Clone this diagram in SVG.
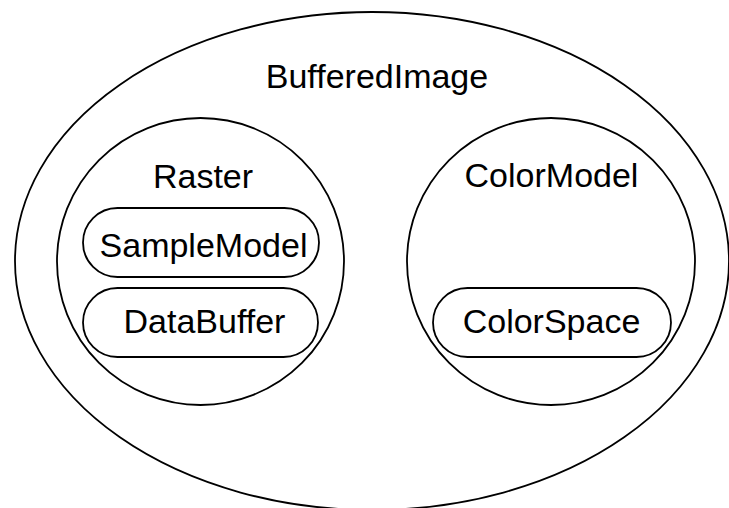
<svg xmlns="http://www.w3.org/2000/svg" width="729" height="508" viewBox="0 0 729 508">
<style>
.s{fill:none;stroke:#000;stroke-width:1.8}
.t{font-family:"Liberation Sans",Arial,sans-serif;font-size:34px;fill:#000;text-anchor:middle}
</style>
<rect width="729" height="508" fill="#fff"/>
<g id="BufferedImage">
<ellipse class="s" cx="372" cy="261" rx="357" ry="249"/>
<text class="t" x="377" y="88">BufferedImage</text>
</g>
<g id="Raster">
<ellipse class="s" cx="200.5" cy="261.5" rx="143.5" ry="143.5"/>
<text class="t" x="203" y="188">Raster</text>
</g>
<g id="SampleModel">
<rect class="s" x="83" y="208" width="236" height="69" rx="34.5"/>
<text class="t" x="203.5" y="257">SampleModel</text>
</g>
<g id="DataBuffer">
<rect class="s" x="83" y="288" width="235" height="69" rx="34.5"/>
<text class="t" x="204.5" y="333">DataBuffer</text>
</g>
<g id="ColorModel">
<ellipse class="s" cx="551" cy="261.5" rx="144" ry="143.5"/>
<text class="t" x="551.5" y="187">ColorModel</text>
</g>
<g id="ColorSpace">
<rect class="s" x="433" y="288" width="238" height="69" rx="34.5"/>
<text class="t" x="551.5" y="333">ColorSpace</text>
</g>
<g id="connectors"></g>
</svg>
